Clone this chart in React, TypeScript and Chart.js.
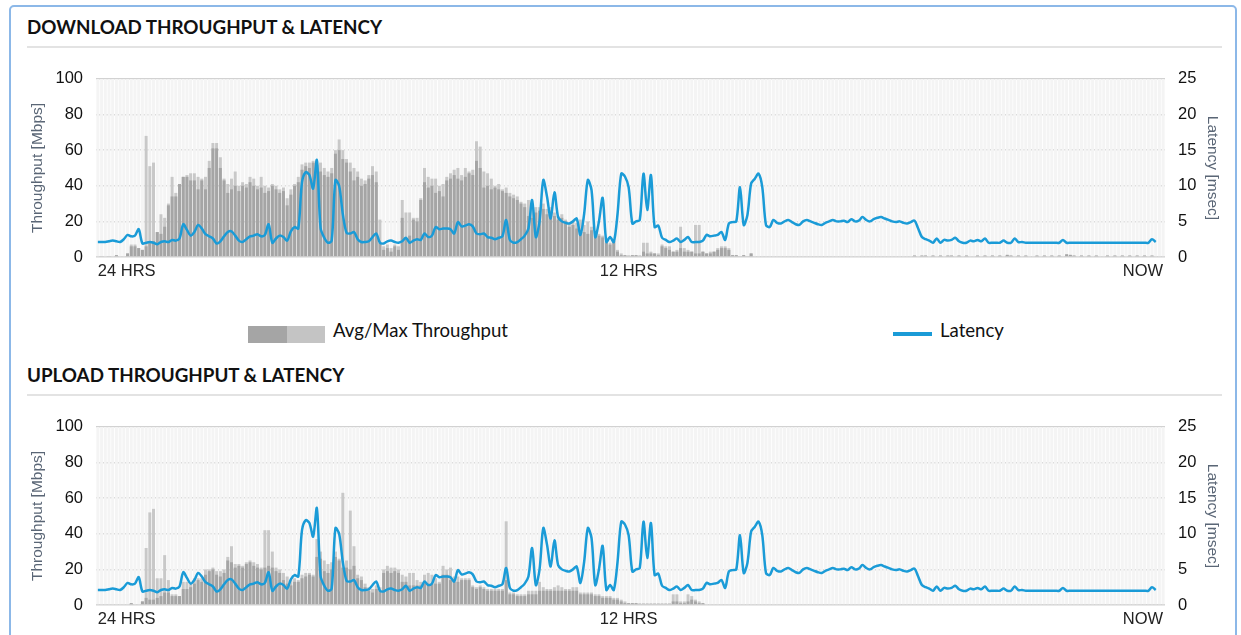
import React, { useEffect, useRef } from "react";
import { Chart, registerables } from "chart.js";

Chart.register(...registerables);

const N = 288;
const X_LABELS = ["24 HRS", "12 HRS", "NOW"];
const X_LABEL_INDEX = [0, 143, 287];
const LEFT_MAX = 100;
const LEFT_STEP = 20;
const RIGHT_MAX = 25;
const RIGHT_STEP = 5;

const CATEGORIES = Array.from({ length: N }, (_, i) => {
  const k = X_LABEL_INDEX.indexOf(i);
  return k >= 0 ? X_LABELS[k] : "";
});

// Download throughput (Mbps)
const DL_AVG = [
  0, 0.5, 0, 0.5, 0, 1, 0, 0, 2, 6,
  6, 5, 4, 6, 8, 9, 14, 13, 17, 29,
  34, 34, 41, 45, 45, 43, 43, 38, 43, 38,
  50, 61, 61, 50, 43, 36, 38, 40, 37, 40,
  39, 42, 40, 38, 39, 36, 37, 40, 38, 36,
  37, 29, 35, 40, 42, 49, 51, 50, 53, 52,
  48, 46, 45, 47, 58, 60, 55, 53, 48, 43,
  45, 40, 41, 44, 46, 42, 8, 4, 5, 3,
  6, 4, 22, 10, 12, 21, 20, 32, 42, 39,
  40, 36, 37, 34, 43, 44, 46, 44, 43, 45,
  47, 46, 54, 50, 39, 40, 38, 39, 38, 37,
  36, 34, 33, 32, 30, 28, 23, 22, 25, 26,
  27, 24, 26, 23, 21, 22, 20, 17, 18, 16,
  15, 14, 13, 15, 12, 12, 11, 8, 7, 9,
  3, 1, 1, 0.5, 1, 1, 0.5, 3, 2, 2,
  2, 1, 6, 5, 4, 3, 3, 5, 3, 3,
  3, 2, 2, 3, 2, 2, 3, 4, 5, 5,
  4, 1, 1, 0.5, 1, 0.5, 2, 0, 0, 0,
  0, 0, 0, 0, 0, 0, 0, 0, 0, 0,
  0, 0, 0, 0, 0, 0, 0, 0, 0, 0,
  0, 0, 0, 0, 0, 0, 0, 0, 0, 0,
  0, 0, 0, 0, 0, 0, 0, 0, 0, 0,
  0.8, 0, 0.8, 0.8, 0, 0.8, 0, 0.8, 0, 0.8,
  0.8, 0, 0.8, 0, 0.8, 0, 0, 0.8, 0, 0.8,
  0, 0.8, 0, 0.8, 0, 1.2, 0.8, 0, 0.8, 0,
  0.8, 0, 0, 0.8, 0, 0.8, 0, 0.8, 0, 0.8,
  0, 1.5, 1.2, 0.8, 0, 0.8, 0, 0.8, 0, 0.8,
  0, 0, 0.8, 0, 0.8, 0, 0.8, 0, 0.8, 0,
  0.8, 0, 0.8, 0, 0.8, 0, 0, 0,
];

const DL_MAX = [
  0, 0.5, 0, 0.5, 0, 1, 0, 0, 2, 7,
  7, 5, 4, 68, 51, 53, 14, 24, 22, 30,
  45, 36, 41, 45, 46, 47, 47, 45, 44, 45,
  54, 64, 64, 56, 44, 41, 44, 48, 40, 42,
  41, 45, 44, 40, 45, 40, 39, 41, 40, 38,
  39, 33, 38, 41, 45, 52, 53, 53, 54, 54,
  53, 50, 48, 50, 60, 66, 60, 55, 53, 50,
  48, 44, 43, 46, 51, 48, 21, 6, 7, 5,
  7, 6, 32, 25, 25, 22, 22, 33, 50, 45,
  44, 44, 40, 41, 45, 47, 49, 50, 46, 50,
  48, 49, 65, 62, 48, 47, 44, 40, 41, 38,
  39, 36, 35, 34, 31, 30, 32, 28, 28, 28,
  30, 27, 28, 25, 23, 24, 21, 19, 20, 19,
  21, 18, 20, 17, 14, 13, 12, 9, 8, 10,
  4, 2, 1, 1, 1, 1, 1, 8, 8, 3,
  2, 2, 7, 6, 6, 3, 4, 17, 5, 4,
  3, 18, 18, 3, 2, 3, 3, 5, 6, 6,
  5, 1, 1, 0.5, 1, 0.5, 2, 0, 0, 0,
  0, 0, 0, 0, 0, 0, 0, 0, 0, 0,
  0, 0, 0, 0, 0, 0, 0, 0, 0, 0,
  0, 0, 0, 0, 0, 0, 0, 0, 0, 0,
  0, 0, 0, 0, 0, 0, 0, 0, 0, 0,
  0.8, 0, 0.8, 0.8, 0, 0.8, 0, 0.8, 0, 0.8,
  0.8, 0, 0.8, 0, 0.8, 0, 0, 0.8, 0, 0.8,
  0, 0.8, 0, 0.8, 0, 1.2, 0.8, 0, 0.8, 0,
  0.8, 0, 0, 0.8, 0, 0.8, 0, 0.8, 0, 0.8,
  0, 1.5, 1.2, 0.8, 0, 0.8, 0, 0.8, 0, 0.8,
  0, 0, 0.8, 0, 0.8, 0, 0.8, 0, 0.8, 0,
  0.8, 0, 0.8, 0, 0.8, 0, 0, 0,
];

// Upload throughput (Mbps)
const UL_AVG = [
  0, 0, 0, 0, 0, 0, 0, 0, 0, 1,
  0, 0, 2, 4, 3, 3, 4, 5, 7, 7,
  5, 5, 5, 9, 9, 10, 12, 14, 13, 17,
  19, 20, 17, 16, 18, 25, 24, 21, 22, 21,
  23, 24, 22, 21, 20, 21, 22, 21, 19, 18,
  14, 12, 11, 13, 13, 15, 16, 17, 16, 27,
  26, 19, 18, 20, 27, 25, 21, 21, 20, 22,
  15, 14, 10, 8, 7, 9, 8, 18, 19, 18,
  19, 18, 13, 13, 11, 11, 11, 11, 12, 12,
  12, 12, 12, 17, 17, 14, 13, 13, 14, 14,
  14, 10, 9, 10, 9, 8, 8, 8, 8, 8,
  14, 6, 6, 5, 5, 5, 6, 6, 6, 8,
  8, 8, 8, 8, 8, 8, 8, 8, 8, 8,
  6, 6, 6, 6, 5, 5, 4, 4, 4, 3,
  3, 2, 1, 1, 1, 1, 0.5, 0.5, 0.5, 0.5,
  0.5, 0.5, 0.5, 0.5, 0.5, 2, 2, 1, 1, 2,
  3, 2, 1, 1, 0, 0, 0, 0, 0, 0,
  0, 0, 0, 0, 0, 0, 0, 0, 0, 0,
  0, 0, 0, 0, 0, 0, 0, 0, 0, 0,
  0, 0, 0, 0, 0, 0, 0, 0, 0, 0,
  0, 0, 0, 0, 0, 0, 0, 0, 0, 0,
  0, 0, 0, 0, 0, 0, 0, 0, 0, 0,
  0, 0, 0, 0, 0, 0, 0, 0, 0, 0,
  0, 0, 0, 0, 0, 0, 0, 0, 0, 0,
  0, 0, 0, 0, 0, 0, 0, 0, 0, 0,
  0, 0, 0, 0, 0, 0, 0, 0, 0, 0,
  0, 0, 0, 0, 0, 0, 0, 0, 0, 0,
  0, 0, 0, 0, 0, 0, 0, 0, 0, 0,
  0, 0, 0, 0, 0, 0, 0, 0,
];

const UL_MAX = [
  0, 0, 0, 0, 0, 0, 0, 0, 0, 1,
  0, 0, 2, 32, 52, 54, 15, 15, 28, 14,
  6, 6, 5, 13, 13, 12, 15, 15, 15, 20,
  20, 21, 19, 19, 20, 27, 33, 23, 23, 22,
  24, 25, 24, 23, 21, 42, 42, 30, 21, 20,
  18, 16, 14, 15, 14, 17, 18, 18, 17, 37,
  30, 25, 23, 24, 30, 26, 63, 25, 53, 33,
  17, 16, 12, 10, 9, 11, 10, 20, 22, 21,
  21, 20, 17, 16, 18, 18, 14, 13, 17, 18,
  17, 15, 13, 22, 20, 21, 16, 16, 15, 15,
  15, 11, 10, 11, 10, 9, 9, 9, 9, 9,
  47, 7, 7, 6, 6, 6, 8, 8, 8, 13,
  10, 9, 9, 10, 11, 10, 9, 9, 10, 10,
  7, 7, 7, 7, 6, 6, 5, 5, 5, 4,
  4, 3, 2, 1, 1, 1, 1, 1, 1, 1,
  1, 1, 1, 1, 1, 6, 6, 2, 2, 6,
  5, 3, 2, 1, 0, 0, 0, 0, 0, 0,
  0, 0, 0, 0, 0, 0, 0, 0, 0, 0,
  0, 0, 0, 0, 0, 0, 0, 0, 0, 0,
  0, 0, 0, 0, 0, 0, 0, 0, 0, 0,
  0, 0, 0, 0, 0, 0, 0, 0, 0, 0,
  0, 0, 0, 0, 0, 0, 0, 0, 0, 0,
  0, 0, 0, 0, 0, 0, 0, 0, 0, 0,
  0, 0, 0, 0, 0, 0, 0, 0, 0, 0,
  0, 0, 0, 0, 0, 0, 0, 0, 0, 0,
  0, 0, 0, 0, 0, 0, 0, 0, 0, 0,
  0, 0, 0, 0, 0, 0, 0, 0, 0, 0,
  0, 0, 0, 0, 0, 0, 0, 0, 0, 0,
  0, 0, 0, 0, 0, 0, 0, 0,
];

// Latency (msec)
const LATENCY = [
  2.1, 2.1, 2.1, 2.2, 2.3, 2.2, 2.1, 2.5, 3.1, 2.9,
  3.0, 3.9, 1.9, 2.0, 2.1, 2.0, 1.8, 2.1, 2.2, 2.1,
  2.4, 2.3, 2.6, 4.6, 3.8, 3.0, 3.5, 4.5, 4.0, 3.2,
  2.9, 2.6, 1.9, 2.2, 2.9, 3.5, 3.6, 3.0, 2.3, 2.1,
  2.5, 2.9, 3.0, 3.2, 2.9, 3.1, 4.6, 2.0, 2.6, 3.0,
  2.8, 2.3, 3.6, 4.2, 4.0, 10.5, 11.9, 11.5, 9.6, 13.6,
  4.1, 2.7, 2.0, 2.3, 10.8, 10.0, 6.0, 3.4, 3.3, 3.5,
  2.5, 2.1, 2.1, 2.2, 2.8, 3.3, 2.0, 1.9, 2.2, 2.3,
  2.1, 2.0, 2.2, 2.7, 2.0, 2.3, 2.5, 2.4, 3.3, 2.8,
  3.0, 4.2, 3.9, 4.0, 4.0, 3.9, 3.3, 4.9, 4.3, 4.4,
  4.6, 4.3, 3.3, 3.2, 3.3, 2.8, 2.7, 2.5, 2.7, 2.9,
  5.2, 2.4, 2.0, 2.1, 2.5, 3.0, 4.0, 8.0, 2.8, 5.0,
  10.8, 8.5, 5.4, 9.1, 5.6, 5.0, 4.8, 4.7, 5.0, 5.4,
  3.1, 6.0, 10.8, 9.4, 2.8, 5.0, 8.3, 2.1, 2.8, 2.1,
  6.0, 11.7, 11.3, 9.8, 4.7, 5.0, 5.2, 11.7, 6.6, 11.5,
  4.2, 4.4, 2.7, 2.4, 2.1, 2.3, 2.6, 2.1, 2.4, 2.8,
  2.1, 2.1, 2.1, 2.3, 3.1, 2.9, 3.0, 3.1, 3.5, 2.4,
  4.7, 4.9, 5.0, 9.8, 4.5, 5.9, 10.3, 11.0, 11.7, 9.8,
  4.5, 4.2, 5.2, 4.8, 4.7, 5.0, 5.2, 4.9, 4.6, 4.5,
  5.0, 5.2, 5.0, 4.8, 4.6, 4.5, 4.8, 5.0, 5.2, 5.0,
  5.0, 5.1, 4.9, 5.3, 5.0, 5.1, 5.6, 5.2, 5.0, 5.3,
  5.5, 5.6, 5.4, 5.2, 5.0, 4.9, 5.0, 4.8, 4.7, 4.9,
  5.1, 4.0, 2.8, 2.5, 2.3, 2.0, 2.6, 2.0, 2.4, 2.3,
  2.4, 2.7, 2.2, 2.0, 2.0, 2.3, 2.2, 2.4, 2.2, 2.6,
  2.0, 2.0, 2.0, 2.0, 2.3, 2.0, 2.0, 2.6, 2.1, 2.1,
  2.0, 2.0, 2.0, 2.0, 2.0, 2.0, 2.0, 2.0, 2.0, 2.0,
  2.4, 2.0, 2.0, 2.0, 2.0, 2.0, 2.0, 2.0, 2.0, 2.0,
  2.0, 2.0, 2.0, 2.0, 2.0, 2.0, 2.0, 2.0, 2.0, 2.0,
  2.0, 2.0, 2.0, 2.0, 2.5, 2.1, null, null,
];

const BACKGROUND = CATEGORIES.map(() => LEFT_MAX);

const TICK_FONT = { family: "'Liberation Sans', Arial, sans-serif", size: 16.5 };
const TITLE_FONT = { family: "'Liberation Sans', Arial, sans-serif", size: 15.5 };
const AXIS_TITLE_COLOR = "#5a6676";
const BLUE = "#1a9bd7";
const DARK = "#a5a5a5";
const LIGHT = "#c8c8c8";

function Panel({ title, avg, max, top }: { title: string; avg: number[]; max: number[]; top: number }) {
  const ref = useRef<HTMLCanvasElement>(null);
  useEffect(() => {
    const barCommon = { grouped: false, barPercentage: 0.8, categoryPercentage: 1, yAxisID: "y" };
    const chart = new Chart(ref.current as HTMLCanvasElement, {
      type: "bar",
      data: {
        labels: CATEGORIES,
        datasets: [
          {
            type: "line",
            label: "Latency",
            data: LATENCY,
            yAxisID: "y1",
            borderColor: BLUE,
            borderWidth: 2.5,
            pointRadius: 0,
            tension: 0.3,
            order: 0,
          } as any,
          { ...barCommon, label: "Avg", data: avg, backgroundColor: DARK, order: 1 },
          { ...barCommon, label: "Max", data: max, backgroundColor: LIGHT, order: 2 },
          { ...barCommon, label: "bg", data: BACKGROUND, backgroundColor: "#f4f4f4", order: 3 },
        ],
      },
      options: {
        responsive: false,
        animation: false,
        layout: { padding: { top: 14, left: 0, right: 0, bottom: 0 } },
        plugins: { legend: { display: false }, tooltip: { enabled: false } },
        scales: {
          x: {
            grid: { display: false, drawTicks: false },
            border: { display: false },
            ticks: {
              autoSkip: false,
              maxRotation: 0,
              minRotation: 0,
              align: "inner",
              padding: 5,
              color: "#222",
              font: TICK_FONT,
              callback: (_v: any, i: number) => CATEGORIES[i],
            },
            afterFit: (s: any) => {
              s.height = 33;
            },
          },
          y: {
            position: "left",
            min: 0,
            max: LEFT_MAX,
            ticks: { stepSize: LEFT_STEP, padding: 13, color: "#111", font: TICK_FONT },
            grid: { color: "#d2d2d2", lineWidth: 1.5, drawTicks: false },
            border: { display: false },
            title: {
              display: true,
              text: "Throughput [Mbps]",
              color: AXIS_TITLE_COLOR,
              font: TITLE_FONT,
              padding: { top: 8, bottom: 0 },
            },
            afterFit: (s: any) => {
              s.width = 76;
            },
          },
          y1: {
            position: "right",
            min: 0,
            max: RIGHT_MAX,
            ticks: { stepSize: RIGHT_STEP, padding: 13, color: "#111", font: TICK_FONT },
            grid: { display: false, drawTicks: false },
            border: { display: false },
            title: {
              display: true,
              text: "Latency [msec]",
              color: AXIS_TITLE_COLOR,
              font: TITLE_FONT,
              padding: { top: 8, bottom: 0 },
            },
            afterFit: (s: any) => {
              s.width = 65;
            },
          },
        },
      } as any,
    });
    return () => chart.destroy();
  }, []);

  const legendText = {
    position: "absolute" as const,
    top: top + 320,
    font: "18.6px Lato, sans-serif",
    lineHeight: "20px",
    color: "#111",
    whiteSpace: "nowrap" as const,
  };

  return (
    <>
      <div
        style={{
          position: "absolute",
          left: 27,
          top: top + 17,
          font: "bold 18.8px Lato, sans-serif",
          lineHeight: "20px",
          color: "#111",
          whiteSpace: "nowrap",
        }}
      >
        {title}
      </div>
      <div style={{ position: "absolute", left: 27, top: top + 46, width: 1195, height: 2, background: "#e3e3e3" }} />
      <canvas
        ref={ref}
        width={1210}
        height={234}
        style={{ position: "absolute", left: 20, top: top + 56, width: 1210, height: 234 }}
      />
      <div style={{ position: "absolute", left: 248, top: top + 326, width: 39, height: 17, background: DARK }} />
      <div style={{ position: "absolute", left: 287, top: top + 326, width: 38, height: 17, background: "#c4c4c4" }} />
      <div style={{ ...legendText, left: 333 }}>Avg/Max Throughput</div>
      <div style={{ position: "absolute", left: 893, top: top + 332, width: 39, height: 4, background: BLUE }} />
      <div style={{ ...legendText, left: 940 }}>Latency</div>
    </>
  );
}

export default function App() {
  return (
    <div style={{ position: "fixed", left: 0, top: 0, width: 1241, height: 635, overflow: "hidden", background: "#fff" }}>
      <div
        style={{
          position: "absolute",
          left: 9,
          top: 5,
          width: 1228,
          height: 720,
          border: "2px solid #8cb8e8",
          borderRadius: 5,
          boxSizing: "border-box",
        }}
      />
      <Panel title="DOWNLOAD THROUGHPUT & LATENCY" avg={DL_AVG} max={DL_MAX} top={0} />
      <Panel title="UPLOAD THROUGHPUT & LATENCY" avg={UL_AVG} max={UL_MAX} top={348} />
    </div>
  );
}
